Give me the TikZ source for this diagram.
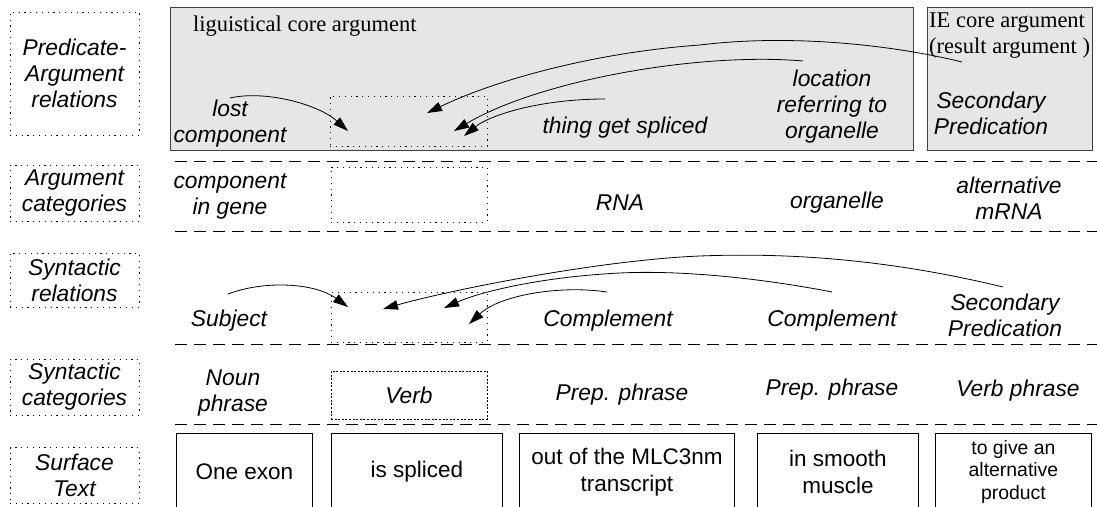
\documentclass[tikz,border=0pt]{standalone}
\usepackage{fontspec}
\setmainfont{Liberation Serif}
\setsansfont{Liberation Sans}
\usetikzlibrary{arrows.meta}
\newcommand\labfont{\fontsize{22.8}{26}\selectfont\sffamily\itshape}
\newcommand\surffont{\fontsize{22.5}{27}\selectfont\sffamily}
\newcommand\smallsurf{\fontsize{19.4}{22.5}\selectfont\sffamily}
\newcommand\titlefont{\fontsize{22.5}{26}\selectfont\rmfamily}
\definecolor{greyfill}{HTML}{E6E6E6}
\definecolor{greyline}{HTML}{404040}
\begin{document}
\begin{tikzpicture}[x=1pt,y=-1pt,
  lbl/.style={font=\labfont, align=center, inner sep=0pt},
  catbox/.style={draw, line width=0.9pt, dash pattern=on 1.2pt off 4.6pt, align=center, font=\labfont, inner sep=0pt},
  verbbox/.style={draw, line width=0.9pt, dash pattern=on 2pt off 1.6pt, font=\labfont, inner sep=0pt},
  greybox/.style={draw=greyline, fill=greyfill, line width=1.3pt, anchor=north west, inner sep=0pt},
  sep/.style={draw, line width=0.9pt, dash pattern=on 12pt off 7pt},
  surf/.style={draw, line width=0.9pt, anchor=north west, align=center, font=\surffont, inner sep=0pt},
  title/.style={font=\titlefont, inner sep=0pt, align=left},
  rel/.style={line width=0.8pt, -{Triangle[length=15pt,width=9.5pt]}}
]
\useasboundingbox (0,0) rectangle (1097,506);

% left category labels
\node[catbox, minimum width=129, minimum height=123] (L1) at (74.5,73.5) {Predicate-\\Argument\\relations};
\node[catbox, minimum width=129, minimum height=56] (L2) at (74.5,193) {Argument\\categories};
\node[catbox, minimum width=129, minimum height=54] (L3) at (74.5,280) {Syntactic\\relations};
\node[catbox, minimum width=129, minimum height=56] (L4) at (74.5,387) {Syntactic\\categories};
\node[catbox, minimum width=129, minimum height=56] (L5) at (74.5,475.5) {Surface\\Text};

% grey argument boxes
\node[greybox, minimum width=743, minimum height=143] (core) at (170,7) {};
\node[greybox, minimum width=165, minimum height=143] (ie) at (927,7) {};
\node[title, anchor=base west] (coretitle) at (193,31) {liguistical core argument};
\node[title, anchor=north west] (ietitle) at (929,13) {IE core argument\\(result argument )};

% separators
\draw[sep] (175,161) -- (1097,161);
\draw[sep] (175,231) -- (1097,231);
\draw[sep] (175,344) -- (1097,344);
\draw[sep] (175,424) -- (1097,424);

% empty predicate slots
\node[catbox, minimum width=157, minimum height=50] (pa) at (408.5,121) {};
\node[catbox, minimum width=156, minimum height=55] (ac) at (409,194.5) {};
\node[catbox, minimum width=156, minimum height=50] (sr) at (409,317) {};
\node[verbbox, minimum width=156, minimum height=48] (verb) at (409,395) {Verb};

% row 1
\node[lbl] (lost) at (230,124) {lost\\component};
\node[lbl] (thing) at (625,128) {thing get spliced};
\node[lbl] (loc) at (832,107) {location\\referring to\\organelle};
\node[lbl] (sec1) at (991,113.5) {Secondary\\Predication};

% row 2
\node[lbl] (comp) at (230,196) {component\\in gene};
\node[lbl] (rna) at (620,203) {RNA};
\node[lbl] (org) at (837,203) {organelle};
\node[lbl] (alt) at (1009,198) {alternative\\mRNA};

% row 3
\node[lbl] (subj) at (229,321) {Subject};
\node[lbl] (compl1) at (608,321) {Complement};
\node[lbl] (compl2) at (832,321) {Complement};
\node[lbl] (sec2) at (1005,315) {Secondary\\Predication};

% row 4
\node[lbl] (np) at (233,393) {Noun\\phrase};
\node[lbl] (pp1) at (622,395) {Prep. phrase};
\node[lbl] (pp2) at (832,390) {Prep. phrase};
\node[lbl] (vp) at (1018,391) {Verb phrase};

% row 5
\node[surf, minimum width=136, minimum height=77] (s1) at (176,433) {One exon};
\node[surf, minimum width=171, minimum height=77] (s2) at (331,433) {is spliced};
\node[surf, minimum width=215, minimum height=77] (s3) at (519,433) {out of the MLC3nm\\transcript};
\node[surf, minimum width=161, minimum height=77] (s4) at (757,433) {in smooth\\muscle};
\node[surf, minimum width=156, minimum height=77, font=\smallsurf] (s5) at (935,433) {to give an\\alternative\\product};

% connector end points
\coordinate (a1s) at (230,98);   \coordinate (a1e) at (348,131);
\coordinate (a2s) at (962,62);   \coordinate (a2e) at (427,113);
\coordinate (a3s) at (803,61);   \coordinate (a3e) at (454,131);
\coordinate (a4s) at (605,99);   \coordinate (a4e) at (464,136);
\coordinate (b1s) at (228,294);  \coordinate (b1e) at (348,307);
\coordinate (b2s) at (1003,287); \coordinate (b2e) at (383,309);
\coordinate (b3s) at (832,292);  \coordinate (b3e) at (444,308);
\coordinate (b4s) at (607,292);  \coordinate (b4e) at (469,324);

% predicate-argument relations
\draw[rel] (a1s) .. controls (265,90) and (318,104) .. (a1e);
\draw[rel] (a2s) .. controls (880,42) and (780,35) .. (700,45) .. controls (600,52) and (500,78) .. (a2e);
\draw[rel] (a3s) .. controls (700,52) and (540,80) .. (a3e);
\draw[rel] (a4s) .. controls (540,99) and (490,115) .. (a4e);

% syntactic relations
\draw[rel] (b1s) .. controls (265,280) and (315,283) .. (b1e);
\draw[rel] (b2s) .. controls (900,262) and (800,252) .. (700,256) .. controls (600,260) and (450,290) .. (b2e);
\draw[rel] (b3s) .. controls (760,278) and (680,270) .. (620,273) .. controls (540,277) and (480,292) .. (b3e);
\draw[rel] (b4s) .. controls (560,285) and (500,295) .. (b4e);
\end{tikzpicture}
\end{document}
